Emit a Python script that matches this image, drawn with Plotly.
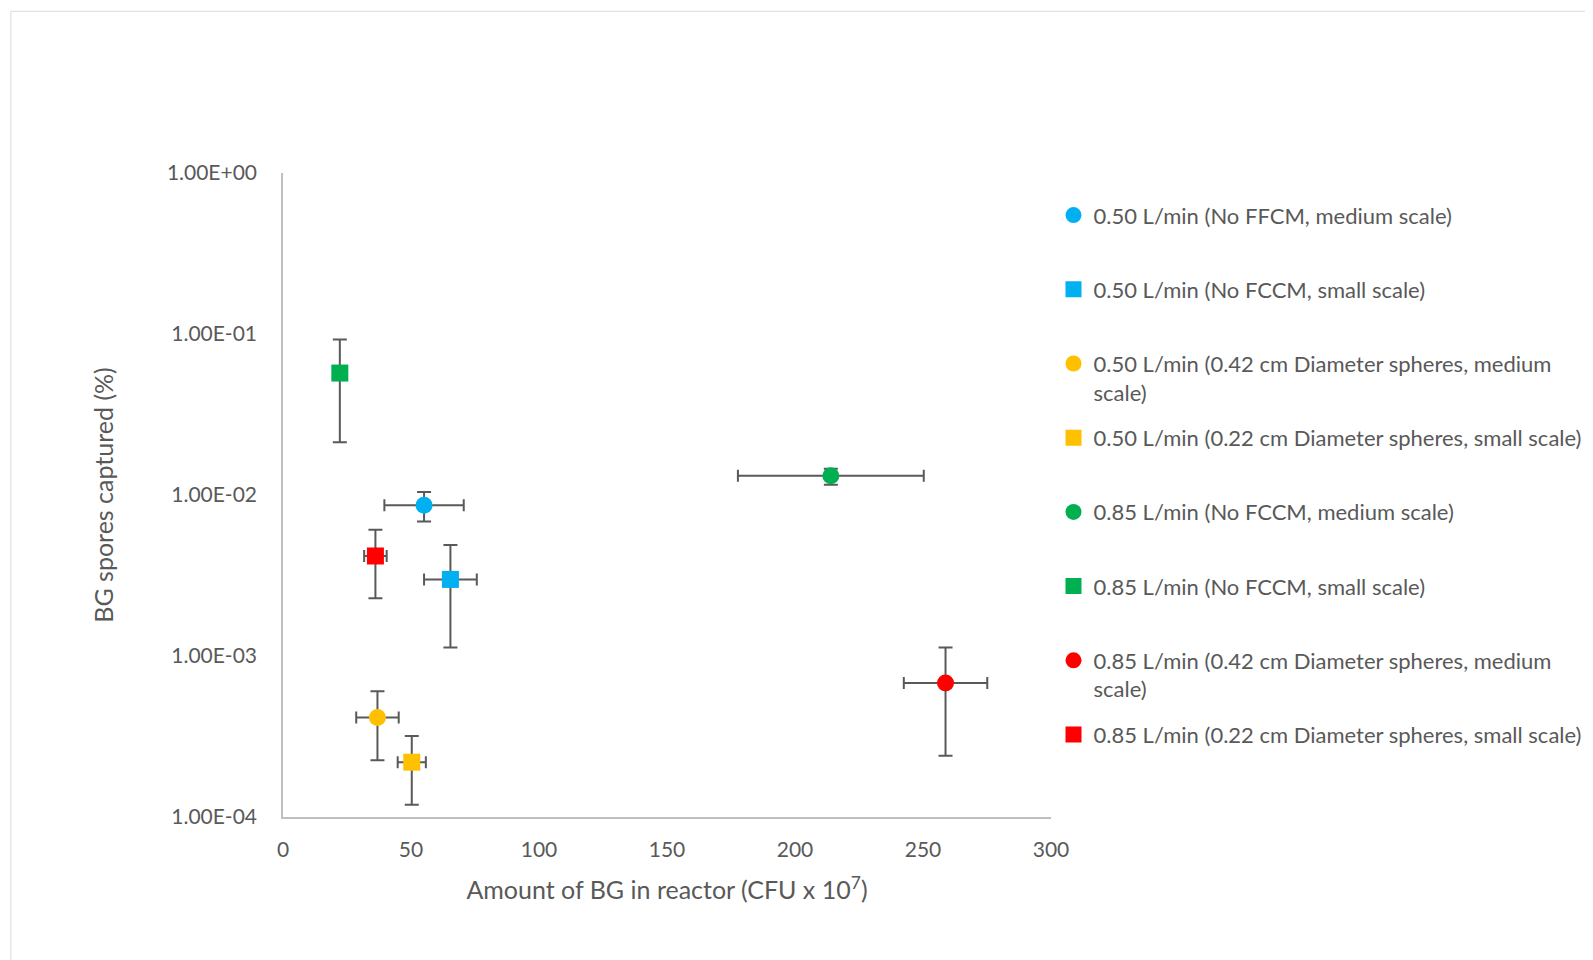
import plotly.graph_objects as go

# ---- data ----
series_names = [
    "0.50 L/min (No FFCM, medium scale)",
    "0.50 L/min (No FCCM, small scale)",
    "0.50 L/min (0.42 cm Diameter spheres, medium<br>scale)",
    "0.50 L/min (0.22 cm Diameter spheres, small scale)",
    "0.85 L/min (No FCCM, medium scale)",
    "0.85 L/min (No FCCM, small scale)",
    "0.85 L/min (0.42 cm Diameter spheres, medium<br>scale)",
    "0.85 L/min (0.22 cm Diameter spheres, small scale)",
]
x_values = [55.1, 65.4, 36.9, 50.3, 214.0, 22.2, 258.8, 36.1]
x_err = [15.5, 10.3, 8.3, 5.5, 36.3, 0.0, 16.3, 4.4]
y_values = [0.00865, 0.00299, 0.000415, 0.000219, 0.01318, 0.0572, 0.00068, 0.00418]
y_err_plus = [0.0018, 0.0019, 0.00019, 0.00010, 0.0014, 0.0351, 0.00045, 0.0019]
y_err_minus = [0.0018, 0.00186, 0.00019, 0.00010, 0.0016, 0.0359, 0.00044, 0.0019]
series_colors = ["#00B0F0", "#00B0F0", "#FFC000", "#FFC000", "#00B050", "#00B050", "#FF0000", "#FF0000"]
series_symbols = ["circle", "square", "circle", "square", "circle", "square", "circle", "square"]

y_tick_vals = [1e-4, 1e-3, 1e-2, 1e-1, 1]
y_tick_text = ["1.00E-04", "1.00E-03", "1.00E-02", "1.00E-01", "1.00E+00"]
x_tick_vals = [0, 50, 100, 150, 200, 250, 300]

FONT = "Lato"
TXT = "#595959"

fig = go.Figure()
for i, name in enumerate(series_names):
    label = name if "<br>" in name else name + "<br> "
    fig.add_trace(go.Scatter(
        x=[x_values[i]], y=[y_values[i]],
        mode="markers", name=label, legendgroup=f"g{i}",
        marker=dict(symbol=series_symbols[i], size=17, color=series_colors[i], line=dict(width=0)),
        error_x=dict(type="data", array=[x_err[i]], color=TXT, thickness=2, width=6, visible=x_err[i] > 0),
        error_y=dict(type="data", symmetric=False, array=[y_err_plus[i]], arrayminus=[y_err_minus[i]],
                     color=TXT, thickness=2, width=7),
    ))

# page has an 8px body margin; coordinates below are figure coordinates
L, R, T, B = 274.5, 1043.5, 164.7, 808.8
W, H = 1593, 960
pw, ph = R - L, B - T

def px_x(v):
    return (v - L) / pw

def px_y(v):
    return (B - v) / ph

fig.add_shape(type="rect", xref="paper", yref="paper",
              x0=px_x(2), x1=px_x(1605), y0=px_y(3), y1=px_y(975),
              line=dict(color="#D9D9D9", width=1), fillcolor="rgba(0,0,0,0)", layer="below")

fig.update_layout(
    width=W, height=H,
    margin=dict(l=L, r=W - R, t=T, b=H - B, pad=0),
    paper_bgcolor="white", plot_bgcolor="white",
    font=dict(family=FONT, color=TXT, size=21),
    showlegend=True,
    legend=dict(x=px_x(1046), y=px_y(186), xanchor="left", yanchor="top",
                font=dict(size=22, color=TXT, family=FONT), valign="top",
                tracegroupgap=14, itemsizing="trace", bgcolor="rgba(0,0,0,0)"),
    xaxis=dict(range=[0, 300], tickvals=x_tick_vals, showgrid=False, zeroline=False,
               showline=True, linecolor="#BFBFBF", linewidth=1.5, ticks="",
               tickfont=dict(size=21, color=TXT), ticklabelstandoff=13,
               title=dict(text="Amount of BG in reactor (CFU x 10<sup>7</sup>)",
                          font=dict(size=25, color=TXT), standoff=22)),
    yaxis=dict(type="log", range=[-4, 0], tickvals=y_tick_vals, ticktext=y_tick_text,
               showgrid=False, zeroline=False, showline=True, linecolor="#BFBFBF", linewidth=1.5,
               ticks="", tickfont=dict(size=21, color=TXT), ticklabelstandoff=20,
               title=dict(text="BG spores captured (%)", font=dict(size=25, color=TXT), standoff=46)),
)

fig.write_html("out.html")
